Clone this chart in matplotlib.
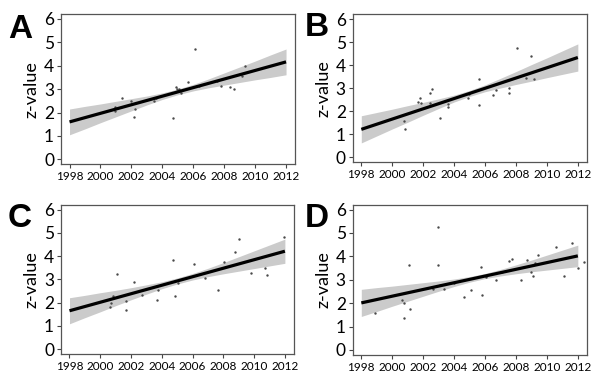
import numpy as np
import matplotlib
matplotlib.use('Agg')
import matplotlib.pyplot as plt

plt.rcParams['font.family'] = ['Lato', 'DejaVu Sans']

panels = ['A', 'B', 'C', 'D']
band_years = np.arange(1998, 2013)

# points: (year, z-value)
a_x = [2000.96, 2000.96, 2001.41, 2001.97, 2002.18, 2002.23, 2003.48, 2003.57, 2004.66, 2004.88, 2004.95,
       2005.08, 2005.23, 2005.64, 2006.09, 2006.39, 2007.53, 2007.79, 2008.40, 2008.61, 2009.15, 2009.32]
a_y = [2.24, 2.06, 2.60, 2.51, 1.80, 2.16, 2.48, 2.62, 1.77, 3.09, 3.01,
       3.01, 2.84, 3.30, 4.71, 3.15, 3.36, 3.15, 3.09, 3.02, 3.57, 3.97]
b_x = [2000.78, 2000.83, 2001.69, 2001.77, 2001.86, 2002.44, 2002.47, 2002.59, 2003.11, 2003.59, 2003.63, 2004.92,
       2004.97, 2005.61, 2005.64, 2006.54, 2006.74, 2007.56, 2007.56, 2008.05, 2008.63, 2009.00, 2009.17]
b_y = [1.57, 1.23, 2.41, 2.55, 2.34, 2.81, 2.34, 2.98, 1.72, 2.16, 2.30, 2.55,
       2.74, 3.39, 2.27, 2.71, 2.91, 3.02, 2.79, 4.75, 3.43, 4.40, 3.38]
c_x = [2000.63, 2000.70, 2000.85, 2001.06, 2001.65, 2001.69, 2002.18, 2002.74, 2003.72, 2003.76, 2004.73, 2004.88,
       2005.05, 2006.09, 2006.78, 2007.64, 2008.01, 2008.74, 2009.00, 2009.79, 2010.70, 2010.81, 2011.91]
c_y = [1.83, 1.99, 2.30, 3.23, 1.69, 2.06, 2.87, 2.33, 2.12, 2.56, 3.84, 2.27,
       2.84, 3.68, 3.06, 2.53, 3.75, 4.19, 4.75, 3.27, 3.48, 3.20, 4.81]
d_x = [1998.88, 2000.65, 2000.78, 2000.78, 2001.08, 2001.17, 2002.66, 2002.96, 2002.96, 2003.07, 2003.33, 2003.97,
       2004.67, 2005.10, 2005.72, 2005.79, 2006.05, 2006.69, 2007.12, 2007.53, 2007.73, 2008.35, 2008.70, 2008.96,
       2009.07, 2009.22, 2009.41, 2010.62, 2011.11, 2011.65, 2012.00, 2012.41]
d_y = [1.57, 2.12, 2.02, 1.38, 3.65, 1.77, 2.62, 5.27, 3.62, 2.76, 2.62, 2.88,
       2.27, 2.58, 3.55, 2.34, 3.12, 2.98, 3.33, 3.79, 3.90, 2.99, 3.85, 3.33,
       3.15, 3.72, 4.05, 4.40, 3.16, 4.59, 3.49, 3.76]

# fitted line at 1998 and 2012
a_fit = [1.60, 4.16]
b_fit = [1.21, 4.33]
c_fit = [1.65, 4.21]
d_fit = [2.01, 4.02]

# half width of the grey confidence band, 1998..2012
a_hw = [0.55, 0.48, 0.40, 0.33, 0.26, 0.19, 0.14, 0.12, 0.14, 0.19, 0.26, 0.33, 0.40, 0.48, 0.55]
b_hw = [0.59, 0.51, 0.43, 0.36, 0.28, 0.21, 0.15, 0.13, 0.15, 0.21, 0.28, 0.36, 0.43, 0.51, 0.59]
c_hw = [0.56, 0.48, 0.41, 0.33, 0.26, 0.20, 0.15, 0.13, 0.14, 0.18, 0.24, 0.31, 0.38, 0.45, 0.52]
d_hw = [0.58, 0.51, 0.43, 0.36, 0.29, 0.22, 0.16, 0.12, 0.11, 0.14, 0.19, 0.25, 0.32, 0.39, 0.46]

xs = [a_x, b_x, c_x, d_x]
ys = [a_y, b_y, c_y, d_y]
fits = [a_fit, b_fit, c_fit, d_fit]
hws = [a_hw, b_hw, c_hw, d_hw]

fig = plt.figure(figsize=(6, 3.84), dpi=100)

boxes = [[0.1017, 0.572, 0.390, 0.392],
         [0.588, 0.578, 0.390, 0.385],
         [0.1017, 0.078, 0.388, 0.389],
         [0.588, 0.076, 0.390, 0.391]]
letter_pos = [(0.013, 0.902), (0.508, 0.905), (0.013, 0.41), (0.508, 0.41)]

for i in range(4):
    ax = fig.add_axes(boxes[i])
    line = np.interp(band_years, [1998, 2012], fits[i])
    hw = np.array(hws[i])
    ax.fill_between(band_years, line - hw, line + hw, color='#cbcbcb', lw=0, zorder=1)
    ax.scatter(xs[i], ys[i], s=3, color='#4a4a4a', lw=0, zorder=2)
    ax.plot([1998, 2012], fits[i], color='black', lw=2.3, zorder=3, solid_capstyle='butt')

    ax.set_xlim(1997.45, 2012.58)
    ax.set_ylim(-0.21, 6.21)
    ax.set_xticks(range(1998, 2013, 2))
    ax.set_yticks(range(0, 7))
    ax.tick_params(axis='x', labelsize=8.5, length=3, width=0.8, color='#444444', pad=2)
    ax.tick_params(axis='y', labelsize=12.5, length=3, width=0.8, color='#444444', pad=2)
    for s in ax.spines.values():
        s.set_color('#555555')
        s.set_linewidth(0.9)
    ax.set_ylabel('z-value', fontsize=13, labelpad=3)

    fig.text(letter_pos[i][0], letter_pos[i][1], panels[i], fontsize=24,
             fontweight='bold', family='Liberation Sans')

fig.savefig('out.png', dpi=100)
